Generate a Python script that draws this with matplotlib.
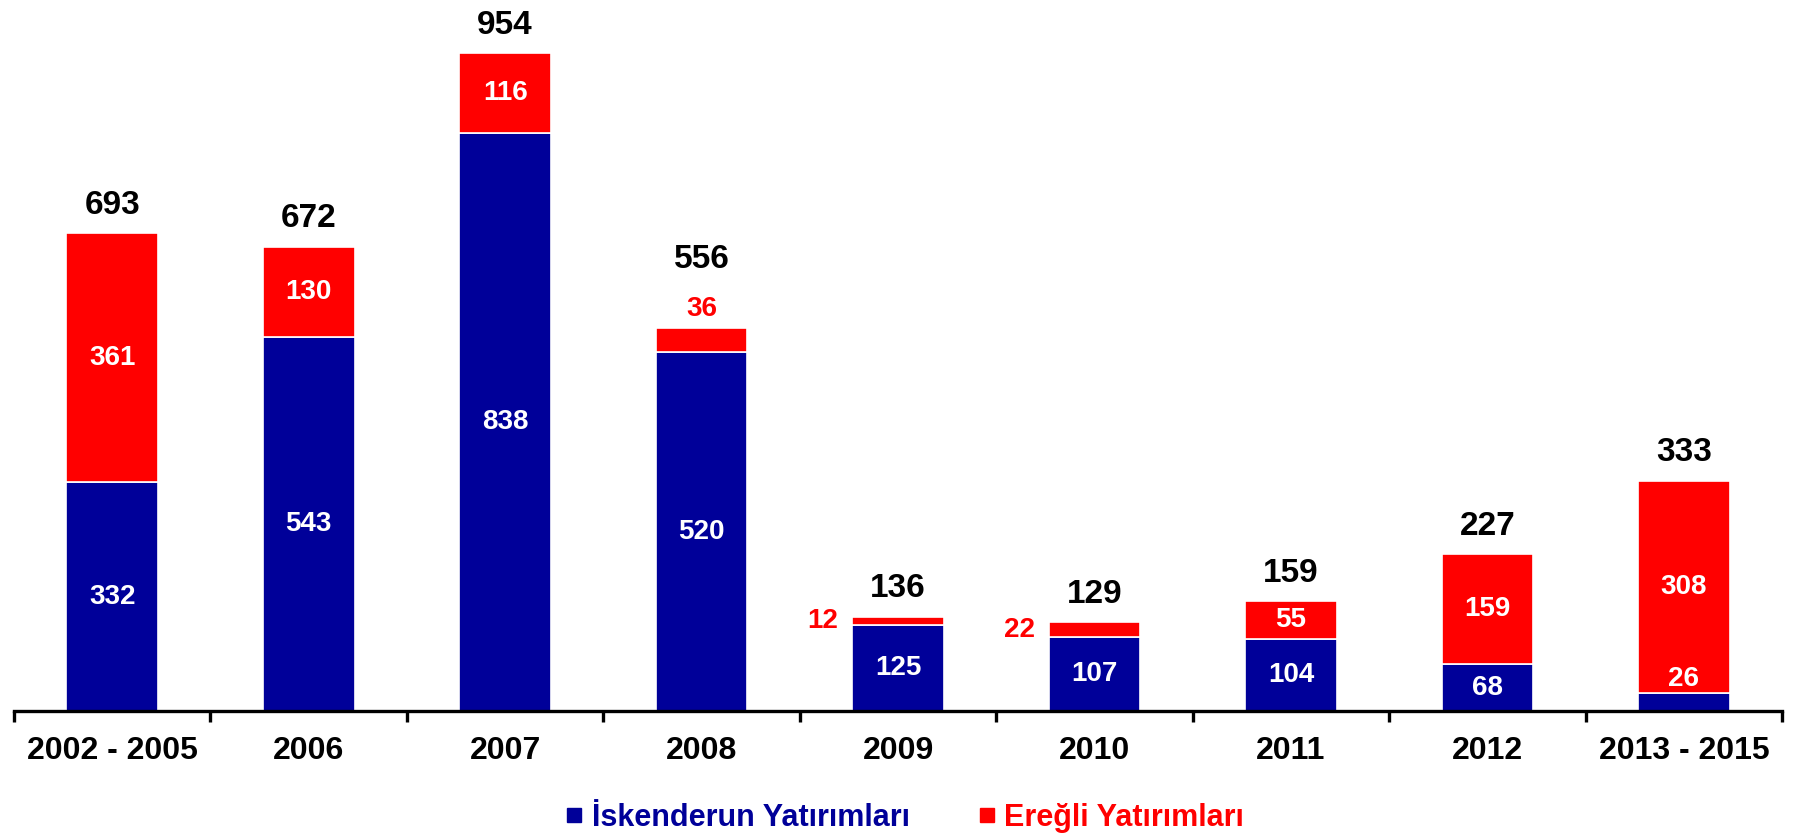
import matplotlib
matplotlib.use("Agg")
import matplotlib.pyplot as plt
import numpy as np
from matplotlib.patches import Patch

BLUE = "#000099"
RED = "#FF0000"

periods = ["2002 - 2005", "2006", "2007", "2008", "2009", "2010", "2011", "2012", "2013 - 2015"]
iskenderun = [332, 543, 838, 520, 125, 107, 104, 68, 26]
eregli = [361, 130, 116, 36, 12, 22, 55, 159, 308]
totals = [693, 672, 954, 556, 136, 129, 159, 227, 333]

plt.rcParams["font.family"] = ["Liberation Sans", "DejaVu Sans"]
plt.rcParams["font.weight"] = "bold"

fig = plt.figure(figsize=(17.97, 8.36), dpi=100)
ax = fig.add_axes([0.0078, 0.1495, 0.9839, 0.8505])

x = np.arange(len(periods))
w = 0.467
ax.bar(x, iskenderun, w, color=BLUE, edgecolor="white", linewidth=1.2)
ax.bar(x, eregli, w, bottom=iskenderun, color=RED, edgecolor="white", linewidth=1.2)

INNER = 20
for i in range(len(periods)):
    blue, red, tot = iskenderun[i], eregli[i], totals[i]
    top = blue + red
    total_off = 14
    # blue segment label
    if blue >= 50:
        ax.text(x[i], blue / 2, str(blue), ha="center", va="center",
                fontsize=INNER, fontweight="bold", color="white")
    else:
        ax.annotate(str(blue), (x[i], blue), xytext=(0, 5), textcoords="offset points",
                    ha="center", va="baseline", fontsize=INNER, fontweight="bold", color="white")
    # red segment label
    if red >= 50:
        ax.text(x[i], blue + red / 2, str(red), ha="center", va="center",
                fontsize=INNER, fontweight="bold", color="white")
    elif red >= 30:
        ax.annotate(str(red), (x[i], top), xytext=(0, 8), textcoords="offset points",
                    ha="center", va="baseline", fontsize=INNER, fontweight="bold", color=RED)
        total_off = 43
    else:
        ax.annotate(str(red), (x[i] - w / 2, blue + red / 2), xytext=(-10, 0),
                    textcoords="offset points", ha="right", va="center",
                    fontsize=INNER, fontweight="bold", color=RED)
    # totals above the stack
    ax.annotate(str(tot), (x[i], top), xytext=(0, total_off), textcoords="offset points",
                ha="center", va="baseline", fontsize=24, fontweight="bold", color="black")

ax.set_xlim(-0.5, len(periods) - 0.5)
ax.set_ylim(0, 1031)
ax.set_yticks([])
for s in ["top", "right", "left"]:
    ax.spines[s].set_visible(False)
ax.spines["bottom"].set_linewidth(2.4)

ax.set_xticks(x)
ax.set_xticklabels(periods, fontsize=23, fontweight="bold")
ax.tick_params(axis="x", which="major", length=0, pad=18)
ax.set_xticks(np.arange(-0.5, len(periods), 1.0), minor=True)
ax.tick_params(axis="x", which="minor", length=8, width=2.4, direction="out")

handles = [Patch(color=BLUE), Patch(color=RED)]
leg = fig.legend(handles, ["İskenderun Yatırımları", "Ereğli Yatırımları"],
                 loc="center", bbox_to_anchor=(0.504, 0.022), ncol=2, frameon=False,
                 fontsize=22, handlelength=0.45, handleheight=0.32, handletextpad=0.35,
                 columnspacing=2.3)
for t, c in zip(leg.get_texts(), [BLUE, RED]):
    t.set_color(c)
    t.set_fontweight("bold")

fig.savefig("out.png", dpi=100, facecolor="white")
